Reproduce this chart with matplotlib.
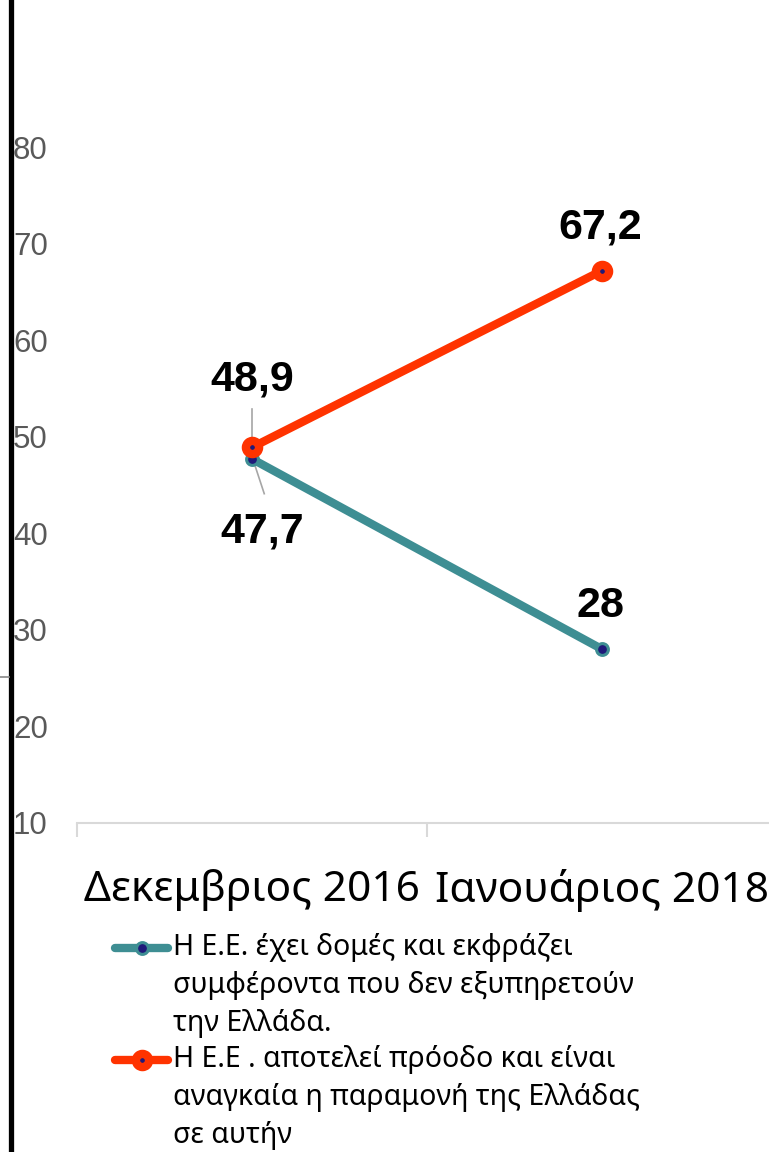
import numpy as np
import matplotlib.pyplot as plt
from matplotlib.lines import Line2D

# data
categories = ['Δεκεμβριος 2016', 'Ιανουάριος 2018']
series_names = ['Η Ε.Ε. έχει δομές και εκφράζει\nσυμφέροντα που δεν εξυπηρετούν\nτην Ελλάδα.',
                'Η Ε.Ε . αποτελεί πρόοδο και είναι\nαναγκαία η παραμονή της Ελλάδας\nσε αυτήν']
against = [47.7, 28]
progress = [48.9, 67.2]
against_labels = ['47,7', '28']
progress_labels = ['48,9', '67,2']
yticks = [10, 20, 30, 40, 50, 60, 70, 80]

teal = '#3E8E93'
red = '#FF3300'
navy = '#1F1A7A'

W, H = 769, 1152
fig = plt.figure(figsize=(W/100, H/100), dpi=100)
ax = fig.add_axes([77/W, (H-823)/H, 700/W, 823/H])

teal_st = dict(color=teal, lw=6, marker='o', ms=8.5, mfc=navy, mec=teal, mew=2.2)
red_st = dict(color=red, lw=6, marker='o', ms=9.5, mfc=navy, mec=red, mew=6)

x = np.arange(len(categories))
ax.plot(x, against, solid_capstyle='round', zorder=3, **teal_st)
ax.plot(x, progress, solid_capstyle='round', zorder=4, **red_st)

ax.set_xlim(-0.5, 1.5)
ax.set_ylim(10, 10 + 823/9.657)

# data labels
lab_font = dict(family='Liberation Sans', fontsize=31, fontweight='bold', color='black',
                ha='center', va='center')
ax.text(x[0], progress[0] + 7, progress_labels[0], **lab_font)
ax.text(x[0] + 0.03, against[0] - 7.5, against_labels[0], **lab_font)
ax.text(x[1] - 0.005, progress[1] + 4.5, progress_labels[1], **lab_font)
ax.text(x[1] - 0.005, against[1] + 4.5, against_labels[1], **lab_font)
# leader lines
ax.plot([x[0], x[0]], [progress[0] + 0.4, progress[0] + 4.0], color='#A6A6A6', lw=1.2, zorder=2)
ax.plot([x[0] + 0.005, x[0] + 0.035], [against[0] - 0.3, against[0] - 3.6], color='#A6A6A6', lw=1.2, zorder=2)

# axes styling
for s in ['left', 'top', 'right']:
    ax.spines[s].set_visible(False)
ax.spines['bottom'].set_color('#D9D9D9')
ax.spines['bottom'].set_linewidth(1.5)
ax.set_xticks(x)
ax.set_xticklabels(categories, family='Noto Sans', fontsize=30.5)
ax.tick_params(axis='x', which='major', length=0, pad=33)
ax.set_xticks([-0.5, 0.5, 1.5], minor=True)
ax.tick_params(axis='x', which='minor', length=10, width=1.5, color='#D9D9D9')

ax.set_yticks(yticks)
ax.set_yticklabels([str(v) for v in yticks], family='Liberation Sans', fontsize=22.5, color='#595959')
ax.tick_params(axis='y', length=0, pad=46)
for t in ax.get_yticklabels():
    t.set_horizontalalignment('left')

# left black bar and small gray mark
fig.add_artist(Line2D([10.5/W, 10.5/W], [0, 1], color='black', lw=3.8))
fig.add_artist(Line2D([0, 9/W], [1 - 677/H, 1 - 677/H], color='#888888', lw=1.2))

# legend drawn manually
leg_y = [948, 1060]
for yy, st, name in zip(leg_y, [teal_st, red_st], series_names):
    fy = 1 - yy/H
    fig.add_artist(Line2D([115/W, 168/W], [fy, fy], color=st['color'], lw=st['lw'],
                          solid_capstyle='round'))
    fig.add_artist(Line2D([141.5/W], [fy], linestyle='none', marker='o', ms=st['ms'],
                          mfc=st['mfc'], mec=st['mec'], mew=st['mew']))
    fig.text(173/W, fy + 15/H, name, family='Noto Sans', fontsize=20.5, color='black',
             ha='left', va='top', linespacing=1.42)

fig.savefig('out.png', dpi=100)
